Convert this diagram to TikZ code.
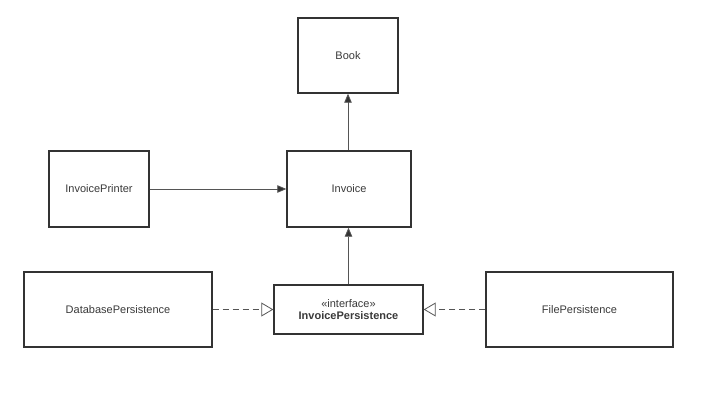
\documentclass[tikz,border=0pt]{standalone}
\usepackage{fontspec}
\setmainfont{Liberation Sans}
\usetikzlibrary{arrows.meta}
\definecolor{boxline}{HTML}{333333}
\definecolor{conline}{HTML}{555555}
\definecolor{txt}{HTML}{3A3A3A}
\begin{document}
\begin{tikzpicture}[x=1pt,y=-1pt,
  cls/.style={draw=boxline,line width=1.4pt,fill=white,inner sep=0pt,text=txt,font=\fontsize{11}{13}\selectfont},
  assoc/.style={draw=conline,line width=0.8pt,-{Triangle[length=9pt,width=7.5pt,fill=black!80]}},
  realize/.style={draw=conline,line width=0.8pt,dash pattern=on 6pt off 4pt,-{Triangle[open,length=12pt,width=14pt,fill=white]}}]
\useasboundingbox (0,0) rectangle (701,401);
\node[cls,minimum width=100pt,minimum height=75pt] (book) at (348,55.5) {Book};
\node[cls,minimum width=124pt,minimum height=76pt] (invoice) at (349,189) {Invoice};
\node[cls,minimum width=100pt,minimum height=76pt] (printer) at (99,189) {InvoicePrinter};
\node[cls,minimum width=188pt,minimum height=75pt] (db) at (118,309.5) {DatabasePersistence};
\node[cls,minimum width=149pt,minimum height=49pt,align=center] (ip) at (348.5,309.5) {«interface»\\[-1pt]\textbf{InvoicePersistence}};
\node[cls,minimum width=187pt,minimum height=75pt] (file) at (579.5,309.5) {FilePersistence};
\draw[assoc] (invoice.north -| book.south) -- (book.south);
\draw[assoc] (printer.east) -- (invoice.west);
\draw[assoc] (ip.north) -- (ip.north |- invoice.south);
\draw[realize] (db.east) -- (ip.west);
\draw[realize] (file.west) -- (ip.east);
\end{tikzpicture}
\end{document}
